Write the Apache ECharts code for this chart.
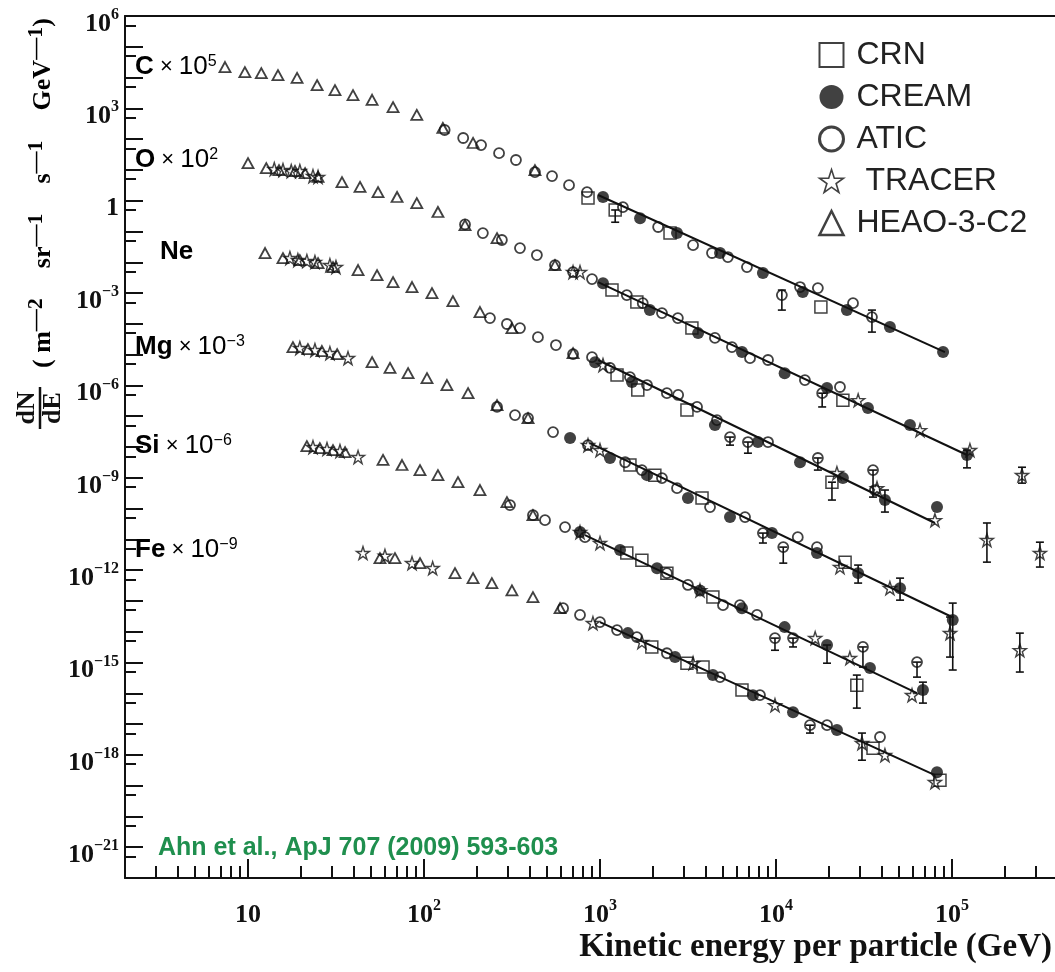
<!DOCTYPE html>
<html>
<head>
<meta charset="utf-8">
<script src="https://cdn.jsdelivr.net/npm/echarts@6/dist/echarts.min.js"></script>
<style>
html, body { margin: 0; padding: 0; background: #fff; }
#main { width: 1055px; height: 972px; }
</style>
</head>
<body>
<div id="main"></div>
<script>
// kinetic energy per particle (GeV), flux scaled as labelled on the plot
var C_HEAO = [[7.4,2.2e4],[9.6,1.5e4],[11.9,1.4e4],[14.8,1.2e4],[19.0,9.7e3],[24.7,5.7e3],[31.2,3.9e3],[39.5,2.7e3],[50.7,1.9e3],[66.7,1.1e3],[91,610],[128,230],[190,75],[427,9.9]];
var C_ATIC = [[131,198],[167,109],[211,64],[267,35],[333,21],[427,8.5],[534,6.3],[667,3.2],[844,1.9],[1350,0.62],[2140,0.14],[3380,0.036],[4330,0.020],[5330,0.0148],[6840,0.0070],[10800,8.6e-4],[13700,1.57e-3],[17300,1.45e-3],[27400,4.7e-4],[35100,1.66e-4]];
var C_CREAM = [[1040,1.32],[1690,0.27],[2740,0.089],[4810,0.020],[8430,0.0045],[14200,1.08e-3],[25300,2.8e-4],[44400,7.9e-5],[89000,1.21e-5]];
var C_CRN = [[855,1.22],[1220,0.50],[2500,0.089],[18000,3.5e-4]];
var C_FIT = [[975,1.53],[91200,1.21e-5]];
var C_ERR = [[10800,2.8e-4,1.25e-3],[1220,0.2,0.5],[35100,5.4e-5,2.8e-4]];

var O_HEAO = [[10,16.7],[12.7,11.5],[15.0,9.9],[18.5,9.2],[21.1,7.9],[25,5.9],[34.2,4.0],[43.3,2.8],[54.8,1.9],[70.3,1.32],[91,0.84],[120,0.43],[171,0.162],[260,0.061],[555,0.0081]];
var O_TRACER = [[14.1,10.7],[15.8,9.9],[17.6,9.2],[19.7,9.2],[23.4,6.3],[25,5.9],[703,0.0048],[770,0.0048],[29300,3.3e-7],[65800,3.5e-8],[126500,7.9e-9],[250000,1.22e-9]];
var O_ATIC = [[171,0.17],[216,0.089],[277,0.053],[351,0.029],[438,0.0172],[555,0.0081],[703,0.0048],[901,0.00285],[1420,8.6e-4],[1750,4.7e-4],[2250,2.24e-4],[2770,1.54e-4],[4500,3.5e-5],[5620,1.76e-5],[7120,7.7e-6],[9010,6.7e-6],[14600,1.49e-6],[18300,5.6e-7],[23100,8.9e-7]];
var O_CREAM = [[1040,0.0021],[1920,2.8e-4],[3610,5.0e-5],[6410,1.21e-5],[11200,2.5e-6],[19500,8.2e-7],[33300,1.84e-7],[57700,5.2e-8],[121700,5.5e-9]];
var O_CRN = [[1170,0.00125],[1620,5.1e-4],[3330,7.3e-5],[24000,3.3e-7]];
var O_FIT = [[975,2.28e-3],[121700,5.5e-9]];
var O_ERR = [[18300,2.0e-7,5.6e-7],[121700,2.1e-9,7.9e-9],[250000,6.7e-10,2.2e-9]];

var NE_HEAO = [[12.5,0.020],[15.8,0.0137],[19.7,0.0118],[25.0,0.0094],[30.4,0.0070],[42.2,0.0056],[54.1,0.00385],[66.7,0.00228],[85.5,0.00157],[111,0.001],[146,5.5e-4],[208,2.42e-4],[316,7.3e-5],[703,1.12e-5]];
var NE_TRACER = [[17.3,0.0137],[19.2,0.0118],[21.6,0.011],[24.0,0.0102],[29.2,0.0081],[31.6,0.0070],[1040,4.6e-6],[22200,1.42e-9],[37500,4.6e-10],[80000,4.2e-11],[158000,9.5e-12],[316000,3.6e-12]];
var NE_ATIC = [[237,1.54e-4],[296,9.9e-5],[351,7.3e-5],[444,3.7e-5],[562,2.05e-5],[703,1.04e-5],[901,8.3e-6],[1140,3.7e-6],[1480,1.87e-6],[1850,1.03e-6],[2400,5.6e-7],[2780,4.9e-7],[3560,2.0e-7],[4620,7.5e-8],[5480,2.1e-8],[6930,1.45e-8],[9010,1.45e-8],[17300,4.4e-9],[35600,1.78e-9],[36500,4.0e-10]];
var NE_CREAM = [[938,5.7e-6],[1520,1.29e-6],[4500,5.2e-8],[7900,1.45e-8],[13700,3.2e-9],[24000,9.8e-10],[41600,1.89e-10],[82200,1.12e-10]];
var NE_CRN = [[1250,2.17e-6],[1640,7.1e-7],[3120,1.58e-7],[20800,7.2e-10]];
var NE_FIT = [[975,6.7e-6],[80000,3.4e-11]];
var NE_ERR = [[5480,1.15e-8,2.1e-8],[6930,6.3e-9,1.45e-8],[17300,1.78e-9,4.4e-9],[35600,2.36e-10,1.78e-9],[41600,7.7e-11,4.0e-10],[20800,1.89e-10,7.2e-10],[158000,1.82e-12,3.4e-11],[316000,1.26e-12,8.1e-12]];

var MG_HEAO = [[18.0,1.76e-5],[21.9,1.52e-5],[26.3,1.31e-5],[32.1,1.04e-5],[50.7,5.7e-6],[64.1,3.7e-6],[81.2,2.5e-6],[104,1.73e-6],[135,1.03e-6],[178,5.6e-7],[260,2.3e-7],[390,8.7e-8]];
var MG_TRACER = [[19.7,1.64e-5],[24.0,1.41e-5],[29.2,1.12e-5],[37.0,7.7e-6],[855,1.15e-8],[1000,7.9e-9],[23100,1.26e-12],[44400,2.6e-13],[97500,9.0e-15],[243000,2.5e-15]];
var MG_ATIC = [[260,2.0e-7],[329,1.09e-7],[390,8.7e-8],[541,3.05e-8],[855,1.15e-8],[1390,3.2e-9],[1730,1.78e-9],[2250,9.8e-10],[2740,4.6e-10],[4220,1.12e-10],[6670,5.3e-11],[8430,1.6e-11],[11000,5.6e-12],[13300,1.18e-11],[17100,5.6e-12]];
var MG_CREAM = [[676,1.95e-8],[1140,4.4e-9],[1850,1.22e-9],[3160,2.19e-10],[5480,5.3e-11],[9490,1.6e-11],[17100,3.6e-12],[29300,8.0e-13],[50700,2.6e-13],[101000,2.4e-14]];
var MG_CRN = [[1480,2.6e-9],[2050,1.22e-9],[3800,2.19e-10],[24700,1.82e-12]];
var MG_FIT = [[877,1.34e-8],[100000,3.0e-14]];
var MG_ERR = [[8430,7.6e-12,1.6e-11],[11000,1.69e-12,5.6e-12],[29300,3.8e-13,1.46e-12],[50700,1.06e-13,5.5e-13],[101000,5.7e-16,8.5e-14],[97500,1.5e-15,3.0e-14],[243000,4.9e-16,9.0e-15]];

var SI_HEAO = [[21.6,1.07e-8],[25.6,9.2e-9],[30.4,7.9e-9],[35.6,6.8e-9],[58.5,3.8e-9],[75,2.6e-9],[94.9,1.78e-9],[120,1.22e-9],[156,7.2e-10],[208,4.0e-10],[296,1.62e-10],[416,6.1e-11]];
var SI_TRACER = [[23.4,9.9e-9],[28.1,8.6e-9],[33.3,7.4e-9],[42.2,4.7e-9],[770,1.72e-11],[1000,7.6e-12],[3700,2.2e-13],[16700,6.2e-15],[26300,1.39e-15],[59300,8.7e-17]];
var SI_ATIC = [[308,1.3e-10],[416,6.1e-11],[487,4.2e-11],[633,2.5e-11],[822,1.18e-11],[2400,8.0e-13],[3160,3.3e-13],[5000,7.3e-14],[6240,7.3e-14],[7800,3.5e-14],[9870,6.2e-15],[12500,6.2e-15],[31200,3.2e-15],[63300,1.03e-15]];
var SI_CREAM = [[770,1.72e-11],[1300,4.5e-12],[2110,1.16e-12],[3700,2.2e-13],[6410,5.8e-14],[11200,1.41e-14],[19500,3.7e-15],[34200,6.6e-16],[68400,1.27e-16]];
var SI_CRN = [[1420,3.6e-12],[1730,2.1e-12],[2400,8.0e-13],[4380,1.33e-13],[28800,1.84e-16]];
var SI_FIT = [[822,1.37e-11],[63300,1.01e-16]];
var SI_ERR = [[9870,2.5e-15,6.2e-15],[12500,3.2e-15,6.2e-15],[19500,9.5e-16,3.7e-15],[31200,7.1e-16,3.2e-15],[28800,3.3e-17,3.9e-16],[68400,4.8e-17,2.3e-16],[63300,3.35e-16,1.03e-15]];

var FE_HEAO = [[56.2,2.46e-12],[68.4,2.46e-12],[94.9,1.69e-12],[150,8.0e-13],[190,5.5e-13],[243,3.8e-13],[316,2.2e-13],[416,1.33e-13],[593,5.8e-14]];
var FE_TRACER = [[45.0,3.6e-12],[60.0,2.9e-12],[85.5,1.69e-12],[112,1.16e-12],[912,1.9e-14],[1730,4.6e-15],[3380,9.5e-16],[9870,4.1e-17],[30800,2.4e-18],[41600,9.8e-19],[80000,1.3e-19]];
var FE_ATIC = [[617,5.8e-14],[770,3.5e-14],[1000,2.05e-14],[1250,1.13e-14],[1620,6.7e-15],[2400,2.0e-15],[4810,3.35e-16],[8110,8.7e-17],[15600,9.2e-18],[19500,9.2e-18],[39000,3.8e-18]];
var FE_CREAM = [[1440,9.0e-15],[2670,1.5e-15],[4380,3.9e-16],[7400,8.7e-17],[12500,2.44e-17],[22200,6.4e-18],[82200,2.7e-19]];
var FE_CRN = [[1970,3.2e-15],[3120,9.5e-16],[3850,7.1e-16],[6410,1.27e-16],[35600,1.65e-18],[85500,1.51e-19]];
var FE_FIT = [[1000,2.05e-14],[80000,2.2e-19]];
var FE_ERR = [[15600,5.1e-18,9.2e-18],[30800,6.7e-19,5.1e-18]];

// axis ranges and labelled decades
var X_MIN = 2, X_MAX = 3.85e5;
var Y_MIN = 1e-22, Y_MAX = 1e6;
var X_LABEL_EXPS = [1, 2, 3, 4, 5];
var Y_LABEL_EXPS = [-21, -18, -15, -12, -9, -6, -3, 0, 3, 6];

var SERIF = '"Liberation Serif", "DejaVu Serif", serif';
var SANS = '"Liberation Sans", Arial, sans-serif';
var STAR = 'path://M50,2 L61,36 L97,36 L68,57 L79,92 L50,71 L21,92 L32,57 L3,36 L39,36 Z';
var HOLLOW = 'rgba(0,0,0,0)';

function lg(v) { return Math.log10(v); }
function toLog(arr) { return arr.map(function (p) { return [lg(p[0]), lg(p[1])]; }); }
function toLogErr(arr) { return arr.map(function (p) { return [lg(p[0]), lg(p[1]), lg(p[2])]; }); }

var xMin = lg(X_MIN), xMax = lg(X_MAX), yMin = lg(Y_MIN), yMax = lg(Y_MAX);

// minor ticks: 2..9 x 10^n on x, 5 x 10^n on y
var xMinor = [];
for (var n = 0; n <= 6; n++) {
  for (var k = 2; k <= 9; k++) {
    var v = n + lg(k);
    if (v > xMin + 1e-6 && v < xMax) xMinor.push(v);
  }
}
var yMinor = [];
for (var m = Math.round(yMin); m < Math.round(yMax); m++) yMinor.push(m + lg(5));

function expLabel(v) {
  var e = Math.round(v);
  if (e === 0) return '{b|1}';
  if (e === 1) return '{b|10}';
  return '{b|10}{s|' + (e < 0 ? '\u2212' + (-e) : e) + '}';
}

var tickRich = {
  b: { fontFamily: SERIF, fontWeight: 'bold', fontSize: 26, color: '#111', lineHeight: 34 },
  s: { fontFamily: SERIF, fontWeight: 'bold', fontSize: 16, color: '#111', lineHeight: 16, verticalAlign: 'top' }
};

var lineCol = '#111';

var markerStyle = {
  'CRN':       { symbol: 'rect', size: 12, itemStyle: { color: HOLLOW, borderColor: lineCol, borderWidth: 1.5 } },
  'CREAM':     { symbol: 'circle', size: 12, itemStyle: { color: lineCol, borderColor: lineCol, borderWidth: 0 } },
  'ATIC':      { symbol: 'circle', size: 10, itemStyle: { color: HOLLOW, borderColor: lineCol, borderWidth: 1.8 } },
  'TRACER':    { symbol: STAR, size: 13, itemStyle: { color: HOLLOW, borderColor: lineCol, borderWidth: 1.4 } },
  'HEAO-3-C2': { symbol: 'triangle', size: [11, 10], itemStyle: { color: HOLLOW, borderColor: lineCol, borderWidth: 1.8 } }
};

var expData = {
  'CRN': [].concat(C_CRN, O_CRN, NE_CRN, MG_CRN, SI_CRN, FE_CRN),
  'CREAM': [].concat(C_CREAM, O_CREAM, NE_CREAM, MG_CREAM, SI_CREAM, FE_CREAM),
  'ATIC': [].concat(C_ATIC, O_ATIC, NE_ATIC, MG_ATIC, SI_ATIC, FE_ATIC),
  'TRACER': [].concat(O_TRACER, NE_TRACER, MG_TRACER, SI_TRACER, FE_TRACER),
  'HEAO-3-C2': [].concat(C_HEAO, O_HEAO, NE_HEAO, MG_HEAO, SI_HEAO, FE_HEAO)
};
var fits = [C_FIT, O_FIT, NE_FIT, MG_FIT, SI_FIT, FE_FIT];
var errs = [].concat(C_ERR, O_ERR, NE_ERR, MG_ERR, SI_ERR, FE_ERR);

var series = [];

// error bars with caps
series.push({
  type: 'custom',
  silent: true,
  z: 1,
  data: toLogErr(errs),
  encode: { x: 0, y: [1, 2] },
  renderItem: function (params, api) {
    var lo = api.coord([api.value(0), api.value(1)]);
    var hi = api.coord([api.value(0), api.value(2)]);
    var st = { stroke: lineCol, lineWidth: 1.6 };
    var cap = 4;
    return {
      type: 'group',
      children: [
        { type: 'line', shape: { x1: lo[0], y1: lo[1], x2: hi[0], y2: hi[1] }, style: st },
        { type: 'line', shape: { x1: lo[0] - cap, y1: lo[1], x2: lo[0] + cap, y2: lo[1] }, style: st },
        { type: 'line', shape: { x1: hi[0] - cap, y1: hi[1], x2: hi[0] + cap, y2: hi[1] }, style: st }
      ]
    };
  }
});

// power-law fits
fits.forEach(function (f) {
  series.push({
    type: 'line',
    silent: true,
    z: 2,
    symbol: 'none',
    data: toLog(f),
    lineStyle: { color: lineCol, width: 2 }
  });
});

['HEAO-3-C2', 'TRACER', 'ATIC', 'CRN', 'CREAM'].forEach(function (name) {
  var ms = markerStyle[name];
  series.push({
    name: name,
    type: 'scatter',
    z: 3,
    symbol: ms.symbol,
    symbolSize: ms.size,
    itemStyle: ms.itemStyle,
    emphasis: { disabled: true },
    data: toLog(expData[name])
  });
});

var speciesRich = {
  e: { fontFamily: SANS, fontWeight: 'bold', fontSize: 26, color: '#1a1a1a' },
  m: { fontFamily: SANS, fontSize: 22, color: '#1a1a1a' },
  n: { fontFamily: SANS, fontSize: 26, color: '#1a1a1a' },
  s: { fontFamily: SANS, fontSize: 16, color: '#1a1a1a', verticalAlign: 'top', lineHeight: 16 }
};
var SPECIES = [
  { t: '{e|C}{m| \u00d7 }{n|10}{s|5}', x: 135, y: 67 },
  { t: '{e|O}{m| \u00d7 }{n|10}{s|2}', x: 135, y: 160 },
  { t: '{e|Ne}', x: 160, y: 252 },
  { t: '{e|Mg}{m| \u00d7 }{n|10}{s|\u22123}', x: 135, y: 347 },
  { t: '{e|Si}{m| \u00d7 }{n|10}{s|\u22126}', x: 135, y: 446 },
  { t: '{e|Fe}{m| \u00d7 }{n|10}{s|\u22129}', x: 135, y: 550 }
];

var graphics = SPECIES.map(function (s) {
  return {
    type: 'text', x: s.x, y: s.y, z: 10,
    style: { text: s.t, rich: speciesRich, align: 'left', verticalAlign: 'middle', textAlign: 'left', textVerticalAlign: 'middle' }
  };
});

var titleRich = {
  n: { fontFamily: SERIF, fontWeight: 'bold', fontSize: 26, color: '#111', lineHeight: 36 },
  s: { fontFamily: SERIF, fontWeight: 'bold', fontSize: 22, color: '#111', lineHeight: 20, verticalAlign: 'top' },
  g: { width: 30 }
};

graphics.push({
  type: 'group', x: 40, y: 408, rotation: Math.PI / 2,
  children: [
    { type: 'text', x: 0, y: -13, style: { text: 'dN', font: 'bold 26px ' + SERIF, fill: '#111', align: 'center', verticalAlign: 'middle', textAlign: 'center', textVerticalAlign: 'middle' } },
    { type: 'line', shape: { x1: -21, y1: 0, x2: 21, y2: 0 }, style: { stroke: '#111', lineWidth: 2.5 } },
    { type: 'text', x: 0, y: 13, style: { text: 'dE', font: 'bold 26px ' + SERIF, fill: '#111', align: 'center', verticalAlign: 'middle', textAlign: 'center', textVerticalAlign: 'middle' } },
    { type: 'text', x: 40, y: 3, style: {
      text: '{n|(}{n| m}{s|\u20142}{g|}{n|sr}{s|\u20141}{g|}{n|s}{s|\u20141}{g|}{n|GeV}{s|\u20141}{n|)}',
      rich: titleRich, align: 'left', verticalAlign: 'middle', textAlign: 'left', textVerticalAlign: 'middle' } }
  ]
});

graphics.push({
  type: 'text', x: 1052, y: 947,
  style: { text: 'Kinetic energy per particle (GeV)', font: 'bold 33px ' + SERIF, fill: '#111',
    align: 'right', verticalAlign: 'middle', textAlign: 'right', textVerticalAlign: 'middle' }
});

graphics.push({
  type: 'text', x: 158, y: 848, z: 10,
  style: { text: 'Ahn et al., ApJ 707 (2009) 593-603', font: 'bold 25px ' + SANS, fill: '#1f8f4e',
    align: 'left', verticalAlign: 'middle', textAlign: 'left', textVerticalAlign: 'middle' }
});

var chartDom = document.getElementById('main');
var myChart = echarts.init(chartDom);

var option = {
  animation: false,
  backgroundColor: '#fff',
  grid: { left: 125, top: 16, bottom: 94, right: 0, show: false, outerBoundsMode: 'none', containLabel: false },
  legend: {
    orient: 'vertical', left: 813, top: 34,
    itemWidth: 24, itemHeight: 24, itemGap: 10,
    selectedMode: false,
    textStyle: { fontFamily: SANS, fontSize: 32, color: '#222', lineHeight: 26, padding: [0, 0, 0, 8] },
    formatter: function (name) { return name === 'TRACER' ? ' TRACER' : name; },
    data: [
      { name: 'CRN', itemStyle: { borderWidth: 2 } },
      { name: 'CREAM' },
      { name: 'ATIC', itemStyle: { borderWidth: 3 } },
      { name: 'TRACER', itemStyle: { borderWidth: 1.6 } },
      { name: 'HEAO-3-C2', itemStyle: { borderWidth: 2.5 } }
    ]
  },
  xAxis: [{
    type: 'value', min: xMin, max: xMax, position: 'bottom',
    axisLine: { show: true, onZero: false, lineStyle: { color: lineCol, width: 2 } },
    axisTick: { show: true, inside: true, length: 19, customValues: X_LABEL_EXPS, lineStyle: { color: lineCol, width: 2 } },
    axisLabel: { customValues: X_LABEL_EXPS, margin: 20, formatter: expLabel, rich: tickRich },
    splitLine: { show: false }
  }, {
    type: 'value', min: xMin, max: xMax, position: 'bottom',
    axisLine: { show: false, onZero: false },
    axisTick: { show: true, inside: true, length: 12, customValues: xMinor, lineStyle: { color: lineCol, width: 2 } },
    axisLabel: { show: false },
    splitLine: { show: false }
  }, {
    type: 'value', min: xMin, max: xMax, position: 'top',
    axisLine: { show: true, onZero: false, lineStyle: { color: lineCol, width: 2 } },
    axisTick: { show: false },
    axisLabel: { show: false },
    splitLine: { show: false }
  }],
  yAxis: [{
    type: 'value', min: yMin, max: yMax, interval: 1, position: 'left',
    axisLine: { show: true, onZero: false, lineStyle: { color: lineCol, width: 2 } },
    axisTick: { show: true, inside: true, length: 18, lineStyle: { color: lineCol, width: 2 } },
    axisLabel: { customValues: Y_LABEL_EXPS, margin: 6, padding: [16, 0, 0, 0], formatter: expLabel, rich: tickRich },
    splitLine: { show: false }
  }, {
    type: 'value', min: yMin, max: yMax, position: 'left',
    axisLine: { show: false, onZero: false },
    axisTick: { show: true, inside: true, length: 11, customValues: yMinor, lineStyle: { color: lineCol, width: 2 } },
    axisLabel: { show: false },
    splitLine: { show: false }
  }],
  graphic: graphics,
  series: series
};

option && myChart.setOption(option, true);
</script>
</body>
</html>
